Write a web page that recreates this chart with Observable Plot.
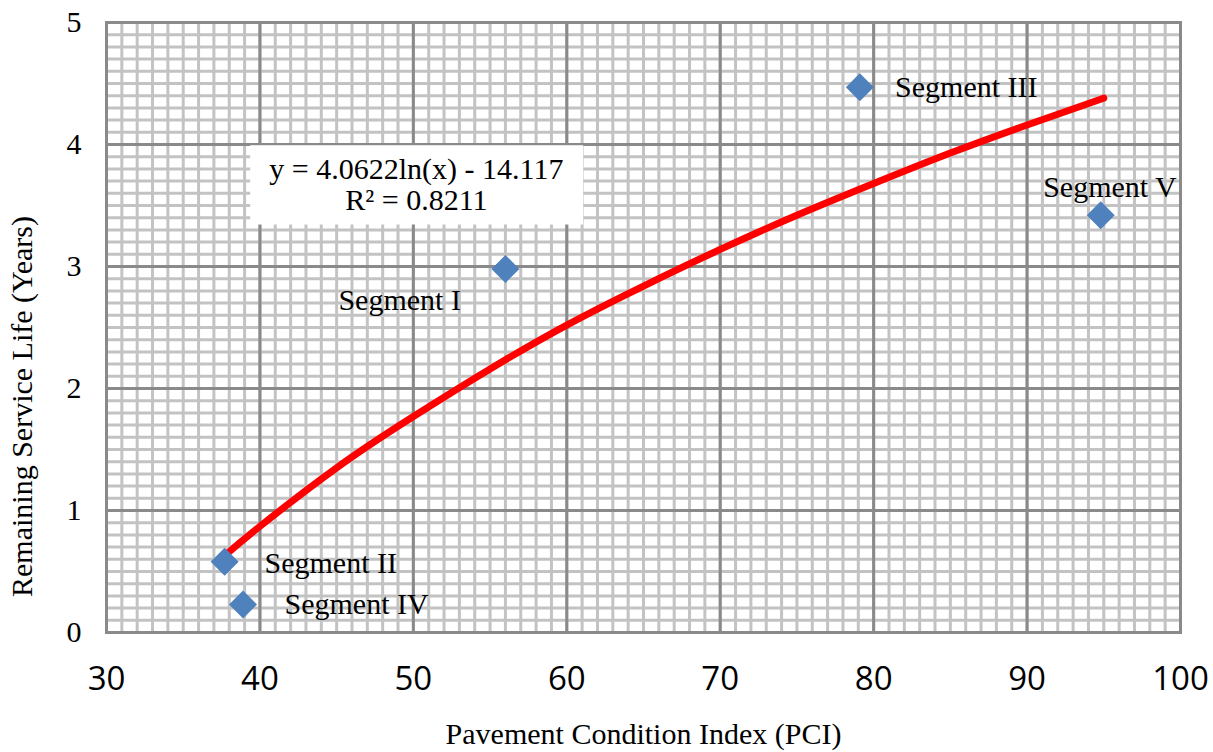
<!DOCTYPE html>
<html>
<head>
<meta charset="utf-8">
<script src="https://cdn.jsdelivr.net/npm/d3@7"></script>
<script src="https://cdn.jsdelivr.net/npm/@observablehq/plot@0.6"></script>
<style>
  html, body { margin: 0; padding: 0; background: #fff; }
  #chart { width: 1213px; height: 752px; }
</style>
</head>
<body>
<div id="chart"></div>
<script>
// ---- data ----
const segments = ["Segment I", "Segment II", "Segment III", "Segment IV", "Segment V"];
const pci      = [56.0, 37.7, 79.1, 38.9, 94.8];
const life     = [2.98, 0.58, 4.47, 0.23, 3.42];

// label anchor positions (data units) and text anchors
const labelX      = [53.1, 40.3, 81.4, 41.6, 95.4];
const labelY      = [2.72, 0.57, 4.47, 0.23, 3.65];
const labelAnchor = ["end", "start", "start", "start", "middle"];

// logarithmic trendline as drawn
const trendX = [37.7, 40, 45, 50, 55, 60, 65, 70, 75, 80, 85, 90, 95];
const trendY = [0.63, 0.87, 1.35, 1.77, 2.16, 2.52, 2.84, 3.14, 3.42, 3.68, 3.93, 4.16, 4.38];

// equation box annotation (data units)
const eqLines = ["y = 4.0622ln(x) - 14.117", "R\u00b2 = 0.8211"];
const eqLineY = [3.80, 3.54];
const eqX = 50.2;
const eqBox = {x1: 39.4, x2: 61.1, y1: 3.34, y2: 3.99};

const xTicks = [30, 40, 50, 60, 70, 80, 90, 100];
const yTicks = [0, 1, 2, 3, 4, 5];
const xTitle = "Pavement Condition Index (PCI)";
const yTitle = "Remaining Service Life (Years)";

// ---- tables ----
const points = segments.map((s, i) => ({seg: s, x: pci[i], y: life[i], lx: labelX[i], ly: labelY[i], anchor: labelAnchor[i]}));
const trend = trendX.map((x, i) => ({x, y: trendY[i]}));
const eq = eqLines.map((t, i) => ({t, x: eqX, y: eqLineY[i]}));

const minorX = d3.range(30, 100.5, 1);
const minorY = d3.range(0, 5.05, 0.1);

const serif = "'Liberation Serif', 'Times New Roman', serif";
const sans = "'Open Sans', 'Liberation Sans', sans-serif";

const labelMark = (anchor) => Plot.text(points.filter(d => d.anchor === anchor), {
  x: "lx", y: "ly", text: "seg", textAnchor: anchor, fontSize: 30, fontFamily: serif, fill: "#000"
});

const chart = Plot.plot({
  width: 1213,
  height: 752,
  marginLeft: 106,
  marginRight: 33,
  marginTop: 22,
  marginBottom: 120,
  style: {background: "#fff", color: "#000"},
  x: {domain: [30, 100], axis: null},
  y: {domain: [0, 5], axis: null},
  marks: [
    Plot.gridX(minorX, {stroke: "#c3c3c3", strokeOpacity: 1, strokeWidth: 3}),
    Plot.gridY(minorY, {stroke: "#c3c3c3", strokeOpacity: 1, strokeWidth: 3}),
    Plot.gridX(xTicks, {stroke: "#8a8a8a", strokeOpacity: 1, strokeWidth: 3}),
    Plot.gridY(yTicks, {stroke: "#8a8a8a", strokeOpacity: 1, strokeWidth: 3}),
    Plot.frame({stroke: "#8a8a8a", strokeWidth: 3}),
    Plot.axisX(xTicks, {tickSize: 0, tickPadding: 34, tickFormat: d => String(d), fontSize: 33, fontFamily: sans, fill: "#000", label: null}),
    Plot.axisY(yTicks, {tickSize: 0, tickPadding: 25, tickFormat: d => String(d), fontSize: 30, fontFamily: serif, fill: "#000", label: null}),
    Plot.text([xTitle], {frameAnchor: "bottom", textAnchor: "middle", dy: 111, fontSize: 30, fontFamily: serif, fill: "#000"}),
    Plot.text([yTitle], {frameAnchor: "left", textAnchor: "middle", rotate: -90, dx: -84, dy: 79, fontSize: 30, fontFamily: serif, fill: "#000"}),
    Plot.rect([eqBox], {x1: "x1", x2: "x2", y1: "y1", y2: "y2", fill: "#fff"}),
    Plot.line(trend, {x: "x", y: "y", stroke: "#ff0000", strokeWidth: 7, curve: "natural", strokeLinecap: "round"}),
    Plot.dot(points, {x: "x", y: "y", symbol: "diamond2", r: 12.6, fill: "#4f81bd", stroke: "none"}),
    labelMark("start"),
    labelMark("end"),
    labelMark("middle"),
    Plot.text(eq, {x: "x", y: "y", text: "t", fontSize: 30, fontFamily: serif, fill: "#000"})
  ]
});
document.getElementById("chart").appendChild(chart);
</script>
</body>
</html>
